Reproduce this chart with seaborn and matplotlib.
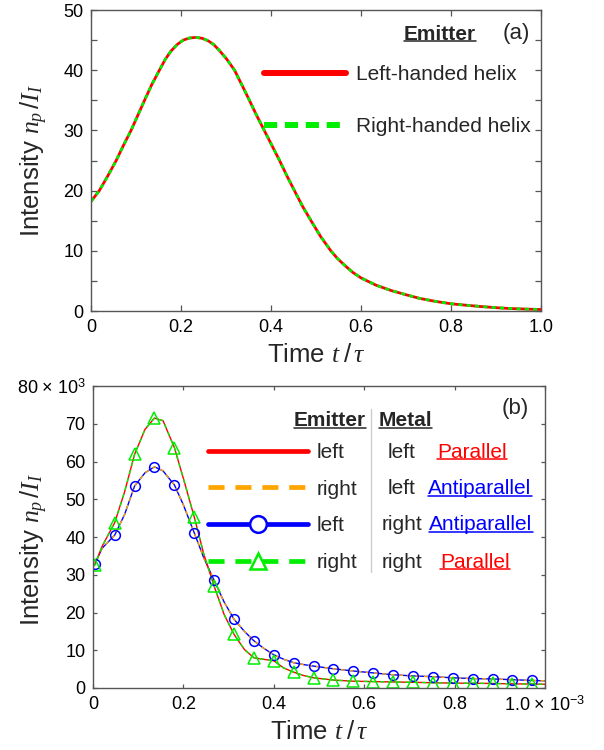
import matplotlib
matplotlib.use("Agg")
import matplotlib.pyplot as plt
import seaborn as sns
from matplotlib.lines import Line2D
from matplotlib.ticker import FixedLocator, MultipleLocator

# panel (a): both helices give the same curve
t_a = [0.0, 0.0185, 0.037, 0.056, 0.072, 0.089, 0.104, 0.119, 0.135, 0.152,
       0.165, 0.178, 0.192, 0.205, 0.219, 0.233, 0.247, 0.26, 0.272, 0.285,
       0.302, 0.319, 0.335, 0.352, 0.368, 0.385, 0.402, 0.419, 0.435, 0.452,
       0.47, 0.489, 0.51, 0.533, 0.548, 0.565, 0.582, 0.60, 0.633, 0.667,
       0.70, 0.73, 0.765, 0.80, 0.835, 0.87, 0.90, 0.93, 0.965, 1.0]
intensity_a = [18.2, 20.0, 22.4, 25.0, 27.5, 30.0, 32.5, 35.0, 37.6, 40.0,
               41.8, 43.2, 44.3, 45.0, 45.35, 45.45, 45.3, 44.9, 44.3, 43.3,
               41.8, 40.0, 37.6, 35.0, 32.5, 30.0, 27.5, 25.0, 22.5, 20.0,
               17.4, 15.0, 12.4, 10.0, 8.7, 7.5, 6.4, 5.5, 4.3, 3.4,
               2.7, 2.1, 1.6, 1.2, 0.95, 0.72, 0.55, 0.42, 0.32, 0.25]

# panel (b): time in units of 1e-3, intensity in units of 1e3
t_b = [0.0, 0.004, 0.02, 0.048, 0.07, 0.092, 0.115, 0.136, 0.155, 0.18,
       0.2, 0.224, 0.245, 0.268, 0.29, 0.312, 0.335, 0.356, 0.378, 0.4,
       0.422, 0.444, 0.466, 0.488, 0.532, 0.576, 0.62, 0.664, 0.708, 0.752,
       0.796, 0.84, 0.884, 0.928, 0.972, 1.0]
parallel_b = [32.2, 32.6, 37.5, 43.8, 52.0, 61.9, 68.5, 71.5, 70.8, 63.7,
              55.5, 45.3, 35.5, 27.0, 19.5, 14.2, 10.2, 8.0, 7.6, 7.2,
              5.3, 4.2, 3.3, 2.7, 2.1, 1.8, 1.7, 1.6, 1.5, 1.4,
              1.3, 1.25, 1.2, 1.1, 1.05, 1.0]
antiparallel_b = [32.4, 32.8, 37.0, 40.5, 46.0, 53.5, 57.0, 58.6, 57.5, 53.8,
                  48.5, 41.1, 34.5, 28.5, 22.8, 18.2, 15.0, 12.5, 10.5, 8.8,
                  7.6, 6.7, 6.2, 5.8, 5.1, 4.5, 4.0, 3.5, 3.2, 3.0,
                  2.7, 2.5, 2.4, 2.2, 2.0, 1.9]
marker_t_b = [0.004, 0.048, 0.092, 0.136, 0.18, 0.224, 0.268, 0.312, 0.356,
              0.4, 0.444, 0.488, 0.532, 0.576, 0.62, 0.664, 0.708, 0.752,
              0.796, 0.84, 0.884, 0.928, 0.972]

xticks = [0, 0.2, 0.4, 0.6, 0.8, 1.0]
xticklabels_a = ["0", "0.2", "0.4", "0.6", "0.8", "1.0"]
xticklabels_b = ["0", "0.2", "0.4", "0.6", "0.8",
                 r"1.0$\,\times\,$10$^{\mathregular{-3}}$"]
yticks_a = [0, 10, 20, 30, 40, 50]
yticks_b = [0, 10, 20, 30, 40, 50, 60, 70, 80]
yticklabels_b = ["0", "10", "20", "30", "40", "50", "60", "70",
                 r"80$\,\times\,$10$^{\mathregular{3}}$"]

helix_labels = ["Left-handed helix", "Right-handed helix"]
emitter_b = ["left", "right", "left", "right"]
metal_b = ["left", "left", "right", "right"]
relation_b = ["Parallel", "Antiparallel", "Antiparallel", "Parallel"]

RED = "#ff0000"
GREEN = "#00ee00"
ORANGE = "#ffa500"
BLUE = "#0000ff"
SPINE = "#555555"

sns.set_theme(style="ticks")
plt.rcParams["font.family"] = ["Liberation Sans", "DejaVu Sans"]
plt.rcParams["mathtext.fontset"] = "custom"
plt.rcParams["mathtext.rm"] = "Liberation Sans"
plt.rcParams["mathtext.it"] = "Liberation Serif:italic"
plt.rcParams["mathtext.bf"] = "Liberation Sans:bold"

W, H = 604, 750
fig = plt.figure(figsize=(W / 100, H / 100), dpi=100)


def px_axes(left, top, right, bottom):
    return fig.add_axes([left / W, 1 - bottom / H, (right - left) / W,
                         (bottom - top) / H])


def style_axes(ax, ticklen):
    for sp in ax.spines.values():
        sp.set_color(SPINE)
        sp.set_linewidth(1.0)
        sp.set_visible(True)
    ax.tick_params(which="both", direction="in", top=True, right=True,
                   color=SPINE, width=0.9, labelsize=13, pad=5.5,
                   labelcolor="black")
    ax.tick_params(which="major", length=ticklen)
    ax.tick_params(which="minor", length=ticklen)
    ax.set_facecolor("white")


ylabel = r"Intensity $n_p\,/I_I$"
xlabel = r"Time $t\;/\,\tau$"

# ---------------- panel (a) ----------------
ax1 = px_axes(91, 10, 541, 311)
sns.lineplot(x=t_a, y=intensity_a, ax=ax1, color=RED, linewidth=2.0,
             sort=False)
sns.lineplot(x=t_a, y=intensity_a, ax=ax1, color=GREEN, linewidth=2.0,
             linestyle=(0, (1.5, 1.5)), sort=False)
ax1.set_xlim(0, 1.0)
ax1.set_ylim(0, 50)
ax1.xaxis.set_major_locator(FixedLocator(xticks))
ax1.set_xticklabels(xticklabels_a)
ax1.yaxis.set_major_locator(FixedLocator(yticks_a))
ax1.yaxis.set_minor_locator(MultipleLocator(5))
style_axes(ax1, 4)
ax1.set_xlabel(xlabel, fontsize=18.5)
ax1.set_ylabel(ylabel, fontsize=18.5)
ax1.yaxis.set_label_coords(-0.092, 0.5)
ax1.xaxis.set_label_coords(0.5, -0.105)

h_a = [Line2D([], [], color=RED, lw=4.3),
       Line2D([], [], color=GREEN, lw=4.3, linestyle=(0, (2.2, 1.3)))]
leg_a = ax1.legend(h_a, helix_labels, loc="upper left",
                   bbox_to_anchor=(264 / W, 1 - 65 / H),
                   bbox_transform=fig.transFigure, frameon=False,
                   fontsize=15, handlelength=3.94, handletextpad=0.5,
                   labelspacing=1.6, borderpad=0, borderaxespad=0)
head_a = fig.text(440 / W, 1 - 34 / H, "Emitter", fontsize=15,
                  fontweight="bold", ha="center", va="center")
fig.text(516 / W, 1 - 33 / H, "(a)", fontsize=16, ha="center", va="center")

# ---------------- panel (b) ----------------
ax2 = px_axes(93, 386, 545, 688)
marks = [t_b.index(t) for t in marker_t_b]
sns.lineplot(x=t_b, y=antiparallel_b, ax=ax2, color=BLUE, linewidth=1.0,
             sort=False)
sns.lineplot(x=t_b, y=antiparallel_b, ax=ax2, color=ORANGE, linewidth=1.0,
             linestyle=(0, (3, 3)), sort=False)
sns.lineplot(x=t_b, y=parallel_b, ax=ax2, color=RED, linewidth=1.0,
             sort=False)
sns.lineplot(x=t_b, y=parallel_b, ax=ax2, color=GREEN, linewidth=1.0,
             linestyle=(0, (3, 3)), sort=False)
ax2.plot(t_b, antiparallel_b, linestyle="none", marker="o", markevery=marks,
         markersize=7, markerfacecolor="none", markeredgecolor=BLUE,
         markeredgewidth=1.1)
ax2.plot(t_b, parallel_b, linestyle="none", marker="^", markevery=marks,
         markersize=8, markerfacecolor="none", markeredgecolor=GREEN,
         markeredgewidth=1.1)
ax2.set_xlim(0, 1.0)
ax2.set_ylim(0, 80)
ax2.xaxis.set_major_locator(FixedLocator(xticks))
ax2.set_xticklabels(xticklabels_b)
ax2.yaxis.set_major_locator(FixedLocator(yticks_b))
ax2.set_yticklabels(yticklabels_b)
style_axes(ax2, 3)
ax2.set_xlabel(xlabel, fontsize=18.5)
ax2.set_ylabel(ylabel, fontsize=18.5)
ax2.yaxis.set_label_coords(-0.096, 0.46)
ax2.xaxis.set_label_coords(0.5, -0.105)

h_b = [Line2D([], [], color=RED, lw=3.4),
       Line2D([], [], color=ORANGE, lw=3.4, linestyle=(0, (3.4, 2.3))),
       Line2D([], [], color=BLUE, lw=3.4, marker="o", markersize=12,
              markerfacecolor="white", markeredgewidth=1.8),
       Line2D([], [], color=GREEN, lw=3.4, linestyle=(0, (3.4, 2.3)),
              marker="^", markersize=12, markerfacecolor="white",
              markeredgewidth=1.8)]
leg_b = ax2.legend(h_b, emitter_b, loc="upper left",
                   bbox_to_anchor=(208 / W, 1 - 443 / H),
                   bbox_transform=fig.transFigure, frameon=False,
                   fontsize=15, handlelength=4.8, handletextpad=0.4,
                   labelspacing=0.85, borderpad=0, borderaxespad=0,
                   numpoints=1)

ax2.axvline((371 - 93) / 452, ymin=(688 - 572) / 302, ymax=(688 - 409) / 302,
            color="#cccccc", linewidth=1.0)

heads_b = [fig.text(330 / W, 1 - 421 / H, "Emitter", fontsize=15,
                    fontweight="bold", ha="center", va="center"),
           fig.text(405.5 / W, 1 - 421 / H, "Metal", fontsize=15,
                    fontweight="bold", ha="center", va="center")]
row_y = [452, 489, 525, 562]
rel_x = [472, 480, 481, 475]
rel_texts = []
for y, m, r, rx in zip(row_y, metal_b, relation_b, rel_x):
    fig.text(402 / W, 1 - y / H, m, fontsize=15, ha="center", va="center")
    c = RED if r == "Parallel" else BLUE
    rel_texts.append(fig.text(rx / W, 1 - y / H, r, fontsize=15, color=c,
                              ha="center", va="center"))
fig.text(515 / W, 1 - 408 / H, "(b)", fontsize=16, ha="center", va="center")

# underline headers and relation words
fig.canvas.draw()
renderer = fig.canvas.get_renderer()
for txt in [head_a] + heads_b + rel_texts:
    bb = txt.get_window_extent(renderer)
    yy = (bb.y0 + 2.5) / H
    fig.add_artist(Line2D([bb.x0 / W, bb.x1 / W], [yy, yy],
                          transform=fig.transFigure,
                          color=txt.get_color(), linewidth=1.1))

fig.savefig("out.png", dpi=100)
